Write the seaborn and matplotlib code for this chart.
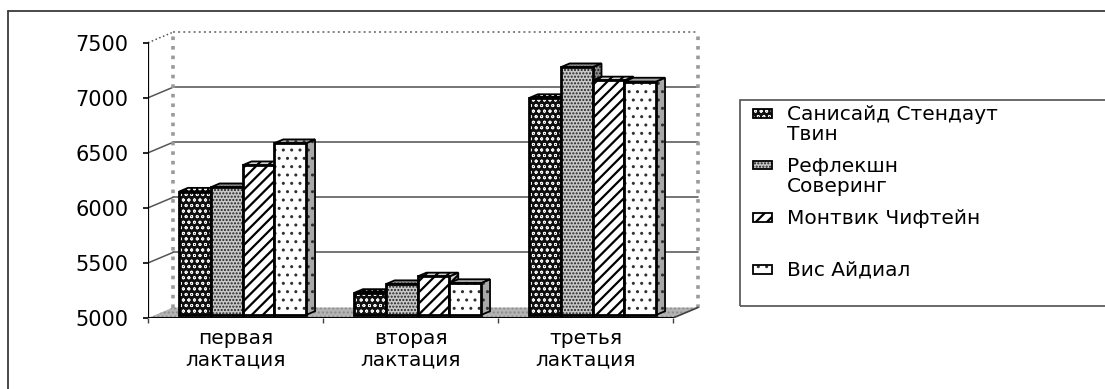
import matplotlib
matplotlib.use("Agg")
import matplotlib.pyplot as plt
from matplotlib.patches import Polygon, Rectangle
from matplotlib.lines import Line2D
import numpy as np
import pandas as pd
import seaborn as sns

# --- data -------------------------------------------------------------
lactations = ["первая\nлактация", "вторая\nлактация", "третья\nлактация"]
varieties = ["Санисайд Стендаут\nТвин", "Рефлекшн\nСоверинг",
             "Монтвик Чифтейн", "Вис Айдиал"]
sunnyside = [6120, 5200, 6970]
reflection = [6160, 5280, 7250]
montvic = [6360, 5350, 7130]
vis_ideal = [6560, 5290, 7120]
y_ticks = [5000, 5500, 6000, 6500, 7000, 7500]

# --- style ------------------------------------------------------------
sns.set_theme(style="white")
plt.rcParams["font.family"] = ["DejaVu Sans"]
plt.rcParams["hatch.linewidth"] = 1.0

W, H, DPI = 1105, 389, 100
fig = plt.figure(figsize=(W / DPI, H / DPI), dpi=DPI)
fig.patch.set_facecolor("white")


def fx(px):
    return px / W


def fy(py):
    return 1 - py / H


# plot area (front plane) in pixels
AX_L, AX_R, AX_B, AX_T = 148, 705, 318, 28
ax = fig.add_axes([fx(AX_L), fy(AX_B), (AX_R - AX_L) / W, (AX_B - AX_T) / H])

PX_PER_CAT = 175.0
PX_PER_VAL = 275.3 / 2500.0
BASE = 5000
X0 = -0.54                      # front-left corner of the floor
X1 = X0 + 3                     # front-right corner of the floor
WALL_DX = 25 / PX_PER_CAT       # depth of the walls
WALL_DY = 10.5 / PX_PER_VAL
BAR_DY = 3 / PX_PER_VAL         # bars stand a little behind the front edge
TOP_DX = 9 / PX_PER_CAT         # depth of each column
TOP_DY = 3.8 / PX_PER_VAL

df = pd.DataFrame({
    "lact": lactations * 4,
    "variety": np.repeat(varieties, 3),
    "value": sunnyside + reflection + montvic + vis_ideal,
})
df["height"] = df["value"] - BASE

sns.barplot(data=df, x="lact", y="height", hue="variety", ax=ax,
            order=lactations, hue_order=varieties, width=0.726, gap=0,
            bottom=BASE + BAR_DY, legend=False, saturation=1,
            palette=["#202020", "#c4c4c4", "white", "white"],
            linewidth=0, errorbar=None)

# fill styles per series: face, hatch, hatch colour, hatch width, shaded face
styles = [
    dict(face="#101010", hatch="ooo", hcol="#f4f4f4", hlw=0.6, shade="#000000"),
    dict(face="#c8c8c8", hatch=".....", hcol="#202020", hlw=1.0, shade="#8e8e8e"),
    dict(face="white", hatch="///", hcol="black", hlw=1.6, shade="#d0d0d0"),
    dict(face="white", hatch="..", hcol="#303030", hlw=1.0, shade="#a8a8a8"),
]


def styled(patch, st):
    patch.set_facecolor(st["face"])
    patch.set_edgecolor(st["hcol"])
    patch.set_hatch(st["hatch"])
    patch.set_linewidth(0)
    try:
        patch.set_hatch_linewidth(st["hlw"])
    except AttributeError:
        pass
    return patch


for k, cont in enumerate(ax.containers):
    st = styles[k]
    z = 10 + k
    for bar in cont:
        x0, y0 = bar.get_x(), bar.get_y()
        w, h = bar.get_width(), bar.get_height()
        x1, y1 = x0 + w, y0 + h
        styled(bar, st)
        bar.set_zorder(z)
        # side face
        side_xy = [(x1, y0), (x1 + TOP_DX, y0 + TOP_DY),
                   (x1 + TOP_DX, y1 + TOP_DY), (x1, y1)]
        side = styled(Polygon(side_xy, closed=True, zorder=z - 0.5), st)
        side.set_facecolor(st["shade"])
        ax.add_patch(side)
        ax.add_patch(Polygon(side_xy, closed=True, fill=False,
                             edgecolor="black", lw=1.3, zorder=z - 0.4))
        # top face
        top_xy = [(x0, y1), (x1, y1), (x1 + TOP_DX, y1 + TOP_DY),
                  (x0 + TOP_DX, y1 + TOP_DY)]
        top = styled(Polygon(top_xy, closed=True, zorder=z - 0.3), st)
        top.set_facecolor(st["shade"])
        ax.add_patch(top)
        ax.add_patch(Polygon(top_xy, closed=True, fill=False,
                             edgecolor="black", lw=1.3, zorder=z - 0.2))
        # front outline
        ax.add_patch(Rectangle((x0, y0), w, h, fill=False, edgecolor="black",
                               lw=2.0, zorder=z + 0.1))

# --- walls, floor, grid ---------------------------------------------------
bx0, bx1 = X0 + WALL_DX, X1 + WALL_DX
floor = Polygon([(X0, BASE), (X1, BASE), (bx1, BASE + WALL_DY), (bx0, BASE + WALL_DY)],
                closed=True, facecolor="#b4b4b4", edgecolor="#8c8c8c",
                hatch="....", lw=0, zorder=1)
ax.add_patch(floor)

for v in y_ticks[1:-1]:
    ax.plot([bx0, bx1], [v + WALL_DY] * 2, color="#5e5e5e", lw=1.2, zorder=2)
for v in y_ticks[1:]:
    ls = ":" if v == y_ticks[-1] else "-"
    ax.plot([X0, bx0], [v, v + WALL_DY], color="#555555", lw=1.1, ls=ls, zorder=2)

top_v = y_ticks[-1] + WALL_DY
ax.plot([bx0, bx1], [top_v, top_v], color="#808080", lw=1.4, ls=":", zorder=2)
ax.plot([bx0, bx0], [BASE + WALL_DY, top_v], color="#9a9a9a", lw=2.6, ls=":", zorder=2)
ax.plot([bx1, bx1], [BASE + WALL_DY, top_v], color="#9a9a9a", lw=2.6, ls=":", zorder=2)

# front axes
ax.plot([X0, X0], [BASE, y_ticks[-1]], color="black", lw=1.6, zorder=3)
ax.plot([X0, X1], [BASE, BASE], color="black", lw=1.4, zorder=20)
ax.plot([X1, bx1], [BASE, BASE + WALL_DY], color="#404040", lw=1.2, zorder=3)

ax.set_xlim(X0, X0 + (AX_R - AX_L) / PX_PER_CAT)
ax.set_ylim(BASE, BASE + (AX_B - AX_T) / PX_PER_VAL)
for s in ax.spines.values():
    s.set_visible(False)
ax.grid(False)

shift = -X0 - 0.5
ax.set_yticks(y_ticks)
ax.set_yticklabels([str(v) for v in y_ticks])
ax.set_xticks([i - shift for i in range(len(lactations))])
ax.set_xticklabels(lactations, linespacing=1.15)
ax.set_xticks([X0 + i for i in range(len(lactations) + 1)], minor=True)
ax.tick_params(axis="y", which="major", left=True, length=3.6, width=1.2,
               color="black", pad=10.5, labelsize=15, labelcolor="black")
ax.tick_params(axis="x", which="major", bottom=True, length=0, pad=8,
               labelsize=14.5, labelcolor="black")
ax.tick_params(axis="x", which="minor", bottom=True, length=3.5, width=1.0,
               color="#404040")
ax.set_xlabel("")
ax.set_ylabel("")
ax.patch.set_alpha(0)

# --- chart-area frame ---------------------------------------------------
fig.add_artist(Line2D([fx(8), fx(W)], [fy(11), fy(11)], color="#3a3a3a", lw=1.3))
fig.add_artist(Line2D([fx(8), fx(8)], [fy(11), fy(H)], color="#3a3a3a", lw=1.3))

# --- legend -------------------------------------------------------------
fig.add_artist(Rectangle((fx(740), fy(306)), fx(W + 10) - fx(740), fy(100) - fy(306),
                         transform=fig.transFigure, fill=False,
                         edgecolor="#505050", lw=1.2))
entry_y = [113, 165, 217, 269]
for k, (name, yc) in enumerate(zip(varieties, entry_y)):
    st = styles[k]
    sw = styled(Rectangle((fx(753), fy(yc + 4.5)), fx(772) - fx(753),
                          fy(yc - 4.5) - fy(yc + 4.5), transform=fig.transFigure), st)
    fig.add_artist(sw)
    fig.add_artist(Rectangle(sw.get_xy(), sw.get_width(), sw.get_height(),
                             transform=fig.transFigure, fill=False,
                             edgecolor="black", lw=1.3))
    fig.text(fx(787), fy(yc - 8), name, fontsize=14.5, color="black",
             va="top", ha="left", linespacing=1.05)

fig.savefig("out.png", dpi=DPI, facecolor="white")
